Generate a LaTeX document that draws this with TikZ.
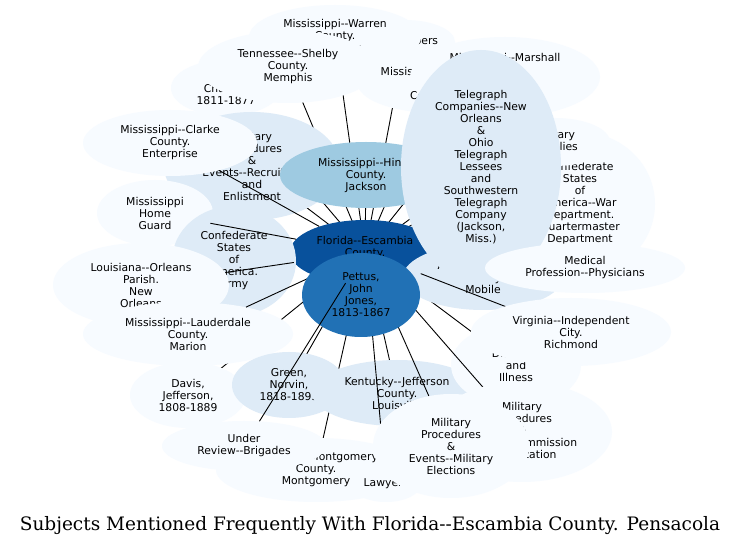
\documentclass[tikz,border=0pt]{standalone}
\usepackage{fontspec}
\newfontfamily\bubfont{DejaVu Sans}
\newfontfamily\capfont{DejaVu Serif}
\usepackage{tikz}
\usetikzlibrary{shapes.geometric}
\definecolor{blueA}{HTML}{F7FBFF}
\definecolor{blueB}{HTML}{DEEBF7}
\definecolor{blueD}{HTML}{9ECAE1}
\definecolor{blueG}{HTML}{2171B5}
\definecolor{blueH}{HTML}{08519C}
\tikzset{
  bubble/.style={ellipse, inner sep=0pt, align=center,
    font=\bubfont\fontsize{10.8}{12}\selectfont},
  bub/.style n args={3}{bubble, minimum width=#1, minimum height=#2, fill=#3},
  link/.style={line width=0.9pt, black},
}

\begin{document}
\begin{tikzpicture}[x=1pt, y=-1pt]
    \useasboundingbox[fill=white] (0,0) rectangle (740,545);

    % Bubble centres
    \coordinate (cFlorida) at (365,252);
    \coordinate (cNewspapers) at (405,42);
    \coordinate (cWarren) at (335,37);
    \coordinate (cClark) at (226,88);
    \coordinate (cTennessee) at (288,67);
    \coordinate (cLowndes) at (437,83);
    \coordinate (cMarshall) at (505,77);
    \coordinate (cSupplies) at (555,142);
    \coordinate (cQuartermaster) at (580,204);
    \coordinate (cMedical) at (585,268);
    \coordinate (cRecruit) at (252,166);
    \coordinate (cHomeguard) at (155,213);
    \coordinate (cClarke) at (170,143);
    \coordinate (cConfarmy) at (234,261);
    \coordinate (cHinds) at (366,175);
    \coordinate (cLouisiana) at (141,285);
    \coordinate (cMobile) at (483,277);
    \coordinate (cTelegraph) at (481,167);
    \coordinate (cLauderdale) at (188,334);
    \coordinate (cDavis) at (188,395);
    \coordinate (cGreen) at (289,385);
    \coordinate (cMontgomery) at (316,470);
    \coordinate (cKentucky) at (397,393);
    \coordinate (cIllness) at (516,365);
    \coordinate (cVirginia) at (571,332);
    \coordinate (cPettus) at (361,295);
    \coordinate (cCommission) at (522,432);
    \coordinate (cLawyers) at (386,484);
    \coordinate (cElections) at (451,446);
    \coordinate (cReview) at (244,446);

    % Links lying under the bubbles
    \foreach \b in {Tennessee,Warren,Newspapers,Clark,Recruit,Lowndes,Marshall,
        Telegraph,Supplies,Quartermaster,Medical,Mobile,Hinds,Confarmy,
        Davis,Green,Montgomery,Kentucky,Illness}
        \draw[link] (cFlorida) -- (c\b);

    % Bubbles, back to front
    \node[bub={100}{44}{blueA}] (newspapers) at (cNewspapers) {Newspapers};
    \node[bub={172}{64}{blueA}] (warren) at (cWarren) {Mississippi-{}-Warren\\County.\\Vicksburg};
    \node[bub={110}{56}{blueA}] (clark) at (cClark) {Clark,\\Charles,\\1811-1877};
    \node[bub={180}{72}{blueA}] (tennessee) at (cTennessee) {Tennessee-{}-Shelby\\County.\\Memphis};
    \node[bub={120}{60}{blueA}] (lowndes) at (cLowndes) {Mississippi-{}-Lowndes\\County.\\Columbus};
    \node[bub={190}{80}{blueA}] (marshall) at (cMarshall) {Mississippi-{}-Marshall\\County.\\Holly\\Springs};
    \node[bub={150}{144}{blueA}] (quartermaster) at (cQuartermaster) {Confederate\\States\\of\\America-{}-War\\Department.\\Quartermaster\\Department};
    \node[bub={110}{48}{blueA}] (supplies) at (cSupplies) {Military\\Supplies};
    \node[bub={176}{108}{blueB}] (recruit) at (cRecruit) {Military\\Procedures\\\&\\Events-{}-Recruiting\\and\\Enlistment};
    \node[bub={116}{66}{blueA}] (homeguard) at (cHomeguard) {Mississippi\\Home\\Guard};
    \node[bub={174}{66}{blueA}] (clarke) at (cClarke) {Mississippi-{}-Clarke\\County.\\Enterprise};
    \node[bub={150}{64}{blueH}] (florida) at (cFlorida) {Florida-{}-Escambia\\County.\\Pensacola};
    \draw[link] (florida) -- (clarke);
    \node[bub={124}{110}{blueB}] (confarmy) at (cConfarmy) {Confederate\\States\\of\\America.\\Army};
    \node[bub={172}{66}{blueD}] (hinds) at (cHinds) {Mississippi-{}-Hinds\\County.\\Jackson};
    \node[bub={176}{84}{blueA}] (louisiana) at (cLouisiana) {Louisiana-{}-Orleans\\Parish.\\New\\Orleans};
    \draw[link] (florida) -- (homeguard);
    \draw[link] (florida) -- (louisiana);
    \node[bub={160}{66}{blueB}] (mobile) at (cMobile) {Alabama-{}-Mobile\\County.\\Mobile};
    \node[bub={160}{234}{blueB}] (telegraph) at (cTelegraph) {Telegraph\\Companies-{}-New\\Orleans\\\&\\Ohio\\Telegraph\\Lessees\\and\\Southwestern\\Telegraph\\Company\\(Jackson,\\Miss.)};
    \node[bub={200}{50}{blueA}] (medical) at (cMedical) {Medical\\Profession-{}-Physicians};
    \draw[link] (florida) -- (cVirginia);
    \node[bub={210}{64}{blueA}] (lauderdale) at (cLauderdale) {Mississippi-{}-Lauderdale\\County.\\Marion};
    \draw[link] (florida) -- (lauderdale);
    \node[bub={116}{66}{blueA}] (davis) at (cDavis) {Davis,\\Jefferson,\\1808-1889};
    \node[bub={114}{66}{blueB}] (green) at (cGreen) {Green,\\Norvin,\\1818-1893};
    \node[bub={200}{64}{blueA}] (montgomery) at (cMontgomery) {Alabama-{}-Montgomery\\County.\\Montgomery};
    \node[bub={170}{66}{blueB}] (kentucky) at (cKentucky) {Kentucky-{}-Jefferson\\County.\\Louisville};
    \draw[link] (florida) -- (cElections);
    \draw[link] (florida) -- (cLawyers);
    \node[bub={130}{84}{blueA}] (illness) at (cIllness) {Diseases\\and\\Illness};
    \draw[link] (florida) -- (cCommission);
    \node[bub={200}{68}{blueA}] (virginia) at (cVirginia) {Virginia-{}-Independent\\City.\\Richmond};
    \node[bub={118}{84}{blueG}] (pettus) at (cPettus) {Pettus,\\John\\Jones,\\1813-1867};
    \node[bub={180}{100}{blueA}] (commission) at (cCommission) {Military\\Procedures\\\&\\Events-{}-Commission\\Organization};
    \node[bub={70}{36}{blueA}] (lawyers) at (cLawyers) {Lawyers};
    \node[bub={156}{104}{blueA}] (elections) at (cElections) {Military\\Procedures\\\&\\Events-{}-Military\\Elections};
    \node[bub={164}{50}{blueA}] (review) at (cReview) {Under\\Review-{}-Brigades};
    \draw[link] (florida) -- (review);

    % Caption
    \node[font=\capfont\fontsize{18.5}{22}\selectfont, anchor=base] (caption) at (370,531) {Subjects Mentioned Frequently With Florida-{}-Escambia County. Pensacola};
\end{tikzpicture}
\end{document}
